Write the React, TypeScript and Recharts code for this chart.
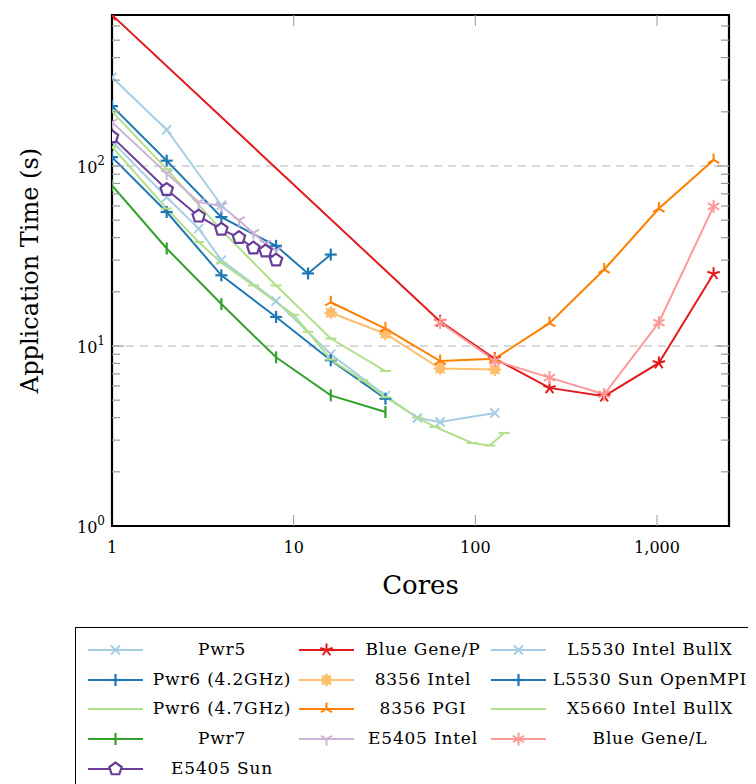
import { LineChart, Line, XAxis, YAxis, ReferenceLine, ReferenceArea } from 'recharts';

// cores / application time (s)
const pwr5Cores = [1, 2, 4];
const pwr5Time = [311, 159, 60.5];

const bgpCores = [1, 64, 128, 256, 512, 1024, 2048];
const bgpTime = [690, 13.7, 8.5, 5.85, 5.26, 8.05, 25.2];

const l5530IntelCores = [1, 2, 3, 4, 8, 16, 32, 48, 64, 128];
const l5530IntelTime = [137, 67, 44.9, 30, 17.8, 9.0, 5.3, 3.98, 3.78, 4.24];

const pwr6aCores = [1, 2, 4, 8, 12, 16];
const pwr6aTime = [215, 107, 52, 36, 25.3, 32.2];

const i8356IntelCores = [16, 32, 64, 128];
const i8356IntelTime = [15.3, 11.7, 7.49, 7.4];

const l5530SunCores = [1, 2, 4, 8, 16, 32];
const l5530SunTime = [112, 55.5, 24.7, 14.5, 8.33, 5.1];

const pwr6bCores = [1, 2, 4, 8, 16, 32];
const pwr6bTime = [201, 96, 44, 21.7, 11, 7.26];

const pgi8356Cores = [16, 32, 64, 128, 256, 512, 1024, 2048];
const pgi8356Time = [17.5, 12.5, 8.25, 8.5, 13.4, 26.6, 58, 108];

const x5660Cores = [1, 2, 3, 4, 6, 10, 12, 16, 24, 32, 48, 60, 96, 120, 144];
const x5660Time = [128, 58, 37.8, 29, 21.7, 14.9, 12, 8.4, 6.45, 5.2, 4.0, 3.55, 2.89, 2.8, 3.29];

const pwr7Cores = [1, 2, 4, 8, 16, 32];
const pwr7Time = [78, 34.8, 17.1, 8.65, 5.32, 4.3];

const e5405IntelCores = [1, 2, 3, 4, 5, 6, 7, 8];
const e5405IntelTime = [175, 91, 63, 60, 50, 42.5, 37, 34];

const bglCores = [64, 128, 256, 512, 1024, 2048];
const bglTime = [13.5, 8.3, 6.67, 5.39, 13.5, 59.7];

const e5405SunCores = [1, 2, 3, 4, 5, 6, 7, 8];
const e5405SunTime = [145, 74, 52.6, 44.5, 40, 35, 33.7, 30];

const xTicks = [1, 10, 100, 1000];
const xTickLabels = ['1', '10', '100', '1,000'];
const yMajor = [1, 10, 100];

const zip = (xs: number[], ys: number[]) => xs.map((x, i) => ({ x, y: ys[i] }));

const series = [
  { name: 'Pwr5', data: zip(pwr5Cores, pwr5Time), color: '#a6cee3', mark: 'x' },
  { name: 'Blue Gene/P', data: zip(bgpCores, bgpTime), color: '#e31a1c', mark: 'star' },
  { name: 'L5530 Intel BullX', data: zip(l5530IntelCores, l5530IntelTime), color: '#a6cee3', mark: 'x' },
  { name: 'Pwr6 (4.2GHz)', data: zip(pwr6aCores, pwr6aTime), color: '#1f78b4', mark: '+' },
  { name: '8356 Intel', data: zip(i8356IntelCores, i8356IntelTime), color: '#fdbf6f', mark: 'blob' },
  { name: 'L5530 Sun OpenMPI', data: zip(l5530SunCores, l5530SunTime), color: '#1f78b4', mark: '+' },
  { name: 'Pwr6 (4.7GHz)', data: zip(pwr6bCores, pwr6bTime), color: '#b2df8a', mark: '-' },
  { name: '8356 PGI', data: zip(pgi8356Cores, pgi8356Time), color: '#ff7f00', mark: 'merc' },
  { name: 'X5660 Intel BullX', data: zip(x5660Cores, x5660Time), color: '#b2df8a', mark: '-' },
  { name: 'Pwr7', data: zip(pwr7Cores, pwr7Time), color: '#33a02c', mark: '|' },
  { name: 'E5405 Intel', data: zip(e5405IntelCores, e5405IntelTime), color: '#cab2d6', mark: 'mercflip' },
  { name: 'Blue Gene/L', data: zip(bglCores, bglTime), color: '#fb9a99', mark: 'asterisk' },
  { name: 'E5405 Sun', data: zip(e5405SunCores, e5405SunTime), color: '#6a3d9a', mark: 'pentagon' },
];

const FONT = 'DejaVu Serif';
const PLOT_L = 104;
const PLOT_R = 721;
const PLOT_T = 7;
const PLOT_B = 518;

const rays = (cx: number, cy: number, r: number, angles: number[]) =>
  angles.map((a, i) => {
    const t = (a * Math.PI) / 180;
    return <line key={i} x1={cx} y1={cy} x2={cx + r * Math.cos(t)} y2={cy - r * Math.sin(t)} />;
  });

function Marker({ cx, cy, mark, color }: any) {
  if (cx == null || cy == null) return null;
  const g = { stroke: color, strokeWidth: 2, fill: 'none' };
  switch (mark) {
    case 'x':
      return (
        <g {...g}>
          <line x1={cx - 4.5} y1={cy - 4.5} x2={cx + 4.5} y2={cy + 4.5} />
          <line x1={cx - 4.5} y1={cy + 4.5} x2={cx + 4.5} y2={cy - 4.5} />
        </g>
      );
    case '+':
      return (
        <g {...g} strokeWidth={2.2}>
          <line x1={cx - 6} y1={cy} x2={cx + 6} y2={cy} />
          <line x1={cx} y1={cy - 6} x2={cx} y2={cy + 6} />
        </g>
      );
    case '-':
      return <line x1={cx - 5.5} y1={cy} x2={cx + 5.5} y2={cy} stroke={color} strokeWidth={2} />;
    case '|':
      return <line x1={cx} y1={cy - 6} x2={cx} y2={cy + 6} stroke={color} strokeWidth={2.2} />;
    case 'star':
      return <g {...g}>{rays(cx, cy, 6.5, [90, 162, 234, 306, 18])}</g>;
    case 'asterisk':
      return <g {...g}>{rays(cx, cy, 6.5, [90, 150, 210, 270, 330, 30])}</g>;
    case 'merc':
      return <g {...g}>{rays(cx, cy, 6.5, [90, 210, 330])}</g>;
    case 'mercflip':
      return <g {...g}>{rays(cx, cy, 6.5, [270, 30, 150])}</g>;
    case 'blob':
      return (
        <g stroke={color} strokeWidth={2} fill={color}>
          <circle cx={cx} cy={cy} r={4} />
          {rays(cx, cy, 6.5, [0, 45, 90, 135, 180, 225, 270, 315])}
        </g>
      );
    case 'pentagon': {
      const pts = [90, 162, 234, 306, 18]
        .map((a) => {
          const t = (a * Math.PI) / 180;
          return `${cx + 6.5 * Math.cos(t)},${cy - 6.5 * Math.sin(t)}`;
        })
        .join(' ');
      return <polygon points={pts} stroke={color} strokeWidth={2.2} fill="white" />;
    }
    default:
      return null;
  }
}

function XTick({ x, payload }: any) {
  const v = payload.value;
  const label = xTickLabels[xTicks.indexOf(v)];
  return (
    <g>
      {v !== 1 && (
        <>
          <line x1={x} x2={x} y1={PLOT_B} y2={PLOT_B - 11} stroke="#999" strokeWidth={1} />
          <line x1={x} x2={x} y1={PLOT_T} y2={PLOT_T + 11} stroke="#999" strokeWidth={1} />
        </>
      )}
      <text x={x} y={545} textAnchor="middle" fontFamily={FONT} fontSize={16} fill="#000">
        {label}
      </text>
    </g>
  );
}

function YTick({ y, payload }: any) {
  const v = payload.value;
  const major = yMajor.includes(v);
  const len = major ? 12 : 8;
  return (
    <g>
      {v !== 1 && (
        <>
          <line x1={PLOT_L} x2={PLOT_L + len} y1={y} y2={y} stroke="#999" strokeWidth={1.2} />
          <line x1={PLOT_R - len} x2={PLOT_R} y1={y} y2={y} stroke="#999" strokeWidth={1.2} />
        </>
      )}
      {major && (
        <text x={PLOT_L - 7} y={y + 7} textAnchor="end" fontFamily={FONT} fontSize={16} fill="#000">
          10
          <tspan dy={-8} fontSize={12}>
            {Math.round(Math.log10(v))}
          </tspan>
        </text>
      )}
    </g>
  );
}

const yTicks: number[] = [];
[1, 10, 100].forEach((d) => {
  for (let k = 1; k <= 9; k++) if (d * k <= 690) yTicks.push(d * k);
});

// legend laid out 3 per row, like pgfplots' legend columns=3
const legendCols = [12, 223, 415];
const legendTextX = [146, 347, 574];
const legendRowY = [22, 52, 81, 111, 141];

function Legend() {
  return (
    <div
      style={{
        position: 'absolute',
        left: 67,
        top: 619,
        width: 720,
        height: 200,
        border: '1.5px solid #000',
        background: '#fff',
      }}
    >
      <svg width={720} height={200}>
        {series.map((s, i) => {
          const col = i % 3;
          const row = Math.floor(i / 3);
          const x0 = legendCols[col];
          const y = legendRowY[row];
          return (
            <g key={s.name}>
              <line x1={x0} x2={x0 + 55} y1={y} y2={y} stroke={s.color} strokeWidth={2} />
              <Marker cx={x0 + 27.5} cy={y} mark={s.mark} color={s.color} />
              <text
                x={legendTextX[col]}
                y={y + 5}
                textAnchor="middle"
                fontFamily={FONT}
                fontSize={17}
                letterSpacing={0.8}
                fill="#000"
              >
                {s.name}
              </text>
            </g>
          );
        })}
      </svg>
    </div>
  );
}

export default function App() {
  return (
    <div style={{ position: 'relative', width: 748, height: 776, overflow: 'hidden', fontFamily: FONT }}>
      <LineChart width={748} height={610} margin={{ top: PLOT_T, right: 748 - PLOT_R, left: 0, bottom: 0 }}>
        <XAxis
          dataKey="x"
          type="number"
          scale="log"
          domain={[1, 2490]}
          ticks={xTicks}
          allowDataOverflow
          axisLine={false}
          tickLine={false}
          tick={<XTick />}
          height={92}
          label={{
            content: () => (
              <text x={(PLOT_L + PLOT_R) / 2} y={586} textAnchor="middle" fontFamily={FONT} fontSize={26} fill="#000">
                Cores
              </text>
            ),
          }}
        />
        <YAxis
          type="number"
          scale="log"
          domain={[1, 690]}
          ticks={yTicks}
          allowDataOverflow
          axisLine={false}
          tickLine={false}
          tick={<YTick />}
          width={PLOT_L}
          interval={0}
          label={{
            content: () => (
              <text
                x={0}
                y={0}
                transform={`translate(30, ${(PLOT_T + PLOT_B) / 2}) rotate(-90)`}
                textAnchor="middle"
                fontFamily={FONT}
                fontSize={24}
                fill="#000"
              >
                Application Time (s)
              </text>
            ),
          }}
        />
        <ReferenceLine y={10} stroke="#b5b5b5" strokeWidth={1.2} strokeDasharray="8 6" />
        <ReferenceLine y={100} stroke="#b5b5b5" strokeWidth={1.2} strokeDasharray="8 6" />
        <ReferenceArea x1={1} x2={2490} y1={1} y2={690} fill="none" stroke="#000" strokeWidth={2.2} ifOverflow="visible" />
        {series.map((s) => (
          <Line
            key={s.name}
            data={s.data}
            dataKey="y"
            stroke={s.color}
            strokeWidth={2}
            isAnimationActive={false}
            activeDot={false}
            dot={(p: any) => <Marker key={`${s.name}-${p.index}`} cx={p.cx} cy={p.cy} mark={s.mark} color={s.color} />}
          />
        ))}
      </LineChart>
      <Legend />
    </div>
  );
}
